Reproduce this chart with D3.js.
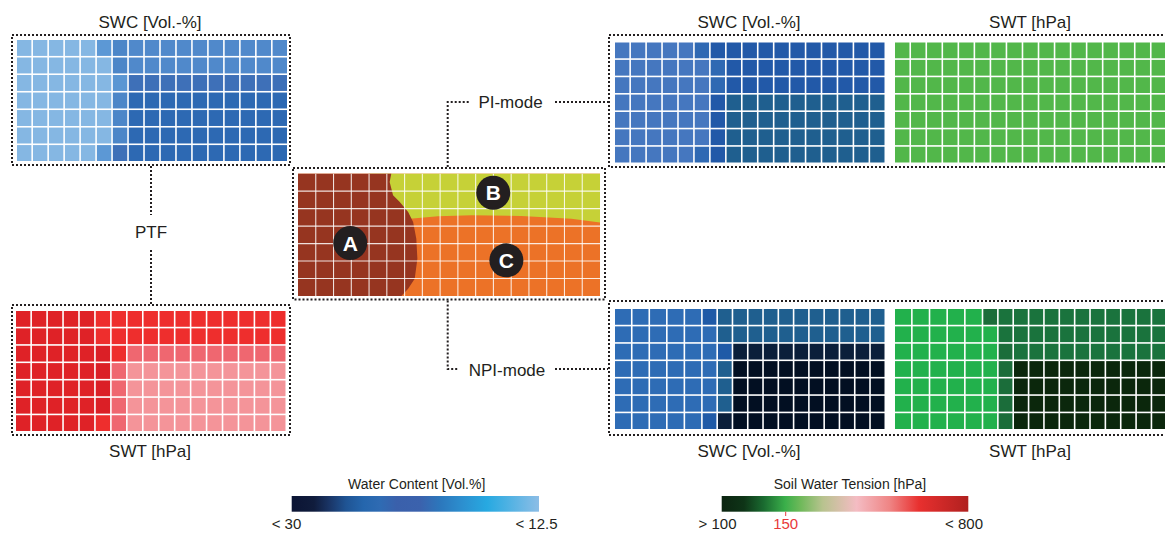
<!DOCTYPE html>
<html>
<head>
<meta charset="utf-8">
<script src="https://cdn.jsdelivr.net/npm/d3@7"></script>
<style>
  html, body { margin: 0; padding: 0; background: #fff; }
  svg { display: block; font-family: "Liberation Sans", Arial, Helvetica, sans-serif; }
</style>
</head>
<body>
<svg id="chart" width="1165" height="534"></svg>
<script>
// ---- grid data: each string is one row of 17 cells, each letter a class ----
const nCols = 17, nRows = 7;

const ptfSwc = [
  "aaaaabcdddddddddd",
  "aaaaaacdddddddddd",
  "aaaaaageeeeeeeeee",
  "aaaaaacffffffffff",
  "aaaaaacffffffffff",
  "aaaaaacffffffffff",
  "aaaaabeffffffffff"
];
const ptfSwcColors = { a: "#85b7e3", b: "#5c98d5", c: "#4c86c8", d: "#5089cb", e: "#3e70b8", f: "#2d69b3", g: "#5a96d3" };

const ptfSwt = [
  "aaaaabbbbbbbbbbbb",
  "aaaaabbbbbbbbbbbb",
  "aaaaacbdddddddddd",
  "aaaaacdeeeeeeeeee",
  "aaaaacdeeeeeeeeee",
  "aaaaacdeeeeeeeeee",
  "aaaaabdeeeeeeeeee"
];
const ptfSwtColors = { a: "#df2227", b: "#ee2e2d", c: "#db1f26", d: "#ef6770", e: "#f49499" };

const piSwc = [
  "aaaaabccccccccccc",
  "aaaaaabcccccccccc",
  "aaaaaabcccccccccc",
  "aaaaaaceeeeeeeeee",
  "aaaaaaceeeeeeeeee",
  "aaaaaaceeeeeeeeee",
  "aaaaabceeeeeeeeee"
];
const piSwcColors = { a: "#4577bf", b: "#2f69b3", c: "#2259a8", e: "#1f5f8f" };

const piSwt = [
  "ggggggggggggggggg",
  "ggggggggggggggggg",
  "ggggggggggggggggg",
  "ggggggggggggggggg",
  "ggggggggggggggggg",
  "ggggggggggggggggg",
  "ggggggggggggggggg"
];
const piSwtColors = { g: "#52b74a" };

const npiSwc = [
  "aaaaabccccccccccc",
  "aaaaaaccccccccccc",
  "aaaaaabdddddddddd",
  "aaaaaaceeeeeeeeee",
  "aaaaaaceeeeeeeeee",
  "aaaaaaceeeeeeeeee",
  "aaaaabdeeeeeeeeee"
];
const npiSwcColors = { a: "#2e6cb5", b: "#1f5aa7", c: "#1f5f8f", d: "#0b1f3a", e: "#020f22" };

const npiSwt = [
  "aaaaabccccccccccc",
  "aaaaaaccccccccccc",
  "aaaaaabcccccccccc",
  "aaaaaabdddddddddd",
  "aaaaaabdddddddddd",
  "aaaaaabdddddddddd",
  "aaaaaabdddddddddd"
];
const npiSwtColors = { a: "#22b14c", b: "#1b6d3a", c: "#1a733d", d: "#0b270c" };

// ---- soil unit map (grid units: columns 0..17, rows 0..7) ----
const unitA = [[0,0],[5.25,0],[5.16,0.48],[5.35,1.24],[5.73,1.62],[6.2,2.19],[6.48,2.76],
               [6.66,3.72],[6.72,4.87],[6.57,6.01],[6.2,6.58],[5.82,7],[0,7]];
const unitB = [[4,0],[17,0],[17,2.8],[15.39,2.58],[12.57,2.42],[9.76,2.38],[7.88,2.44],[6.3,2.58],[4,2.6]];
const unitLabels = [
  { name: "A", col: 2.94, row: 3.97 },
  { name: "B", col: 10.99, row: 1.09 },
  { name: "C", col: 11.73, row: 4.96 }
];
const unitColors = { A: "#963520", B: "#c6d137", C: "#ec7227" };

// ---- legends ----
const waterLegend = { title: "Water Content [Vol.%]", ticks: ["< 30", "< 12.5"] };
const waterStops = [[0,"#0b1434"],[0.09,"#101c3c"],[0.155,"#1a3668"],[0.22,"#1f5494"],[0.29,"#2566ad"],
                    [0.36,"#2f6bb3"],[0.425,"#3a60ab"],[0.52,"#3b62ad"],[0.6,"#2c77bc"],[0.69,"#2c8fcf"],
                    [0.79,"#27a9e1"],[0.87,"#4cb1e3"],[1,"#8cbde6"]];
const tensionLegend = { title: "Soil Water Tension [hPa]", ticks: ["> 100", "150", "< 800"] };
const tensionStops = [[0,"#0b2410"],[0.09,"#0e3417"],[0.17,"#1a6b30"],[0.257,"#3aaf4a"],[0.32,"#6fb95a"],
                      [0.41,"#b8c38f"],[0.547,"#f4bcc3"],[0.68,"#ef8585"],[0.8,"#e8302f"],[1,"#b0201f"]];

// ---- drawing ----
const svg = d3.select("#chart");
const ink = "#231f20";
const gap = 1.6;

function dotted(sel) {
  return sel.attr("fill", "none").attr("stroke", ink)
    .attr("stroke-width", 2).attr("stroke-dasharray", "2 2");
}

// colDomain/colRange allow a piecewise column layout (wider left block)
function drawGrid(rows, colors, colDomain, colRange, y0, y1) {
  const x = d3.scaleLinear().domain(colDomain).range(colRange);
  const y = d3.scaleLinear().domain([0, nRows]).range([y0, y1 + gap]);
  const color = d3.scaleOrdinal().domain(Object.keys(colors)).range(Object.values(colors));
  const cells = rows.flatMap((r, j) => r.split("").map((k, i) => ({ i, j, k })));
  svg.append("g").selectAll("rect").data(cells).join("rect")
    .attr("x", d => x(d.i)).attr("y", d => y(d.j))
    .attr("width", d => x(d.i + 1) - x(d.i) - gap)
    .attr("height", d => y(d.j + 1) - y(d.j) - gap)
    .attr("fill", d => color(d.k));
}

function box(x0, y0, x1, y1) {
  svg.append("rect").attr("x", x0).attr("y", y0)
    .attr("width", x1 - x0).attr("height", y1 - y0).call(dotted);
}

function label(text, x, y, size, anchor, fill) {
  svg.append("text").attr("x", x).attr("y", y)
    .attr("text-anchor", anchor || "middle")
    .attr("font-size", size).attr("fill", fill || ink).text(text);
}

// PTF panels (left)
drawGrid(ptfSwc, ptfSwcColors, [0, nCols], [17, 287 + gap], 40, 161);
box(12, 35, 290, 165);
drawGrid(ptfSwt, ptfSwtColors, [0, nCols], [16, 285.5 + gap], 311, 431);
box(12, 305, 290, 435);

// PI-mode panels (top right)
drawGrid(piSwc, piSwcColors, [0, nCols], [615, 884.5 + gap], 42.5, 162.5);
drawGrid(piSwt, piSwtColors, [0, nCols], [895, 1166 + gap], 42.5, 162.5);
box(609, 35, 1175, 167);

// NPI-mode panels (bottom right)
drawGrid(npiSwc, npiSwcColors, [0, 5, nCols], [615, 702.7, 884.5 + gap], 309, 429);
drawGrid(npiSwt, npiSwtColors, [0, 5, nCols], [895, 983.3, 1166 + gap], 309, 429);
box(609, 301, 1175, 435);

// soil unit map (centre)
const mx = d3.scaleLinear().domain([0, nCols]).range([298, 600]);
const my = d3.scaleLinear().domain([0, nRows]).range([173.7, 296]);
const map = svg.append("g");
map.append("rect").attr("x", mx(0)).attr("y", my(0))
  .attr("width", mx(nCols) - mx(0)).attr("height", my(nRows) - my(0))
  .attr("fill", unitColors.C);
const poly = d3.line().x(d => mx(d[0])).y(d => my(d[1])).curve(d3.curveLinearClosed);
map.append("path").attr("d", poly(unitB)).attr("fill", unitColors.B);
map.append("path").attr("d", poly(unitA)).attr("fill", unitColors.A);
map.append("g").selectAll("line").data(d3.range(1, nCols)).join("line")
  .attr("x1", d => mx(d)).attr("x2", d => mx(d)).attr("y1", my(0)).attr("y2", my(nRows))
  .attr("stroke", "#fff").attr("stroke-width", 1.1).attr("stroke-opacity", 0.85);
map.append("g").selectAll("line").data(d3.range(1, nRows)).join("line")
  .attr("x1", mx(0)).attr("x2", mx(nCols)).attr("y1", d => my(d)).attr("y2", d => my(d))
  .attr("stroke", "#fff").attr("stroke-width", 1.1).attr("stroke-opacity", 0.85);
const marks = map.append("g").selectAll("g").data(unitLabels).join("g")
  .attr("transform", d => `translate(${mx(d.col)},${my(d.row)})`);
marks.append("circle").attr("r", 17).attr("fill", ink);
marks.append("text").attr("text-anchor", "middle").attr("dy", "0.36em")
  .attr("font-size", 21).attr("font-weight", "bold").attr("fill", "#fff").text(d => d.name);
box(293, 168, 605, 299.5);

// connectors
svg.append("path").attr("d", "M151,166V215M151,250V304").call(dotted);
svg.append("path").attr("d", "M447.7,167V102H470M555,102H608").call(dotted);
svg.append("path").attr("d", "M447.7,300.5V369H458M555,369H608").call(dotted);

// panel titles
label("SWC [Vol.-%]", 150, 28, 17);
label("SWC [Vol.-%]", 749, 28, 17);
label("SWT [hPa]", 1030, 28, 17);
label("SWT [hPa]", 150, 457, 17);
label("SWC [Vol.-%]", 749, 457, 17);
label("SWT [hPa]", 1030, 457, 17);
label("PTF", 151, 238, 17);
label("PI-mode", 510.5, 108, 17);
label("NPI-mode", 507, 376, 17);

// colour legends
const defs = svg.append("defs");
function gradient(id, stops) {
  defs.append("linearGradient").attr("id", id)
    .selectAll("stop").data(stops).join("stop")
    .attr("offset", d => d[0]).attr("stop-color", d => d[1]);
}
gradient("gWater", waterStops);
gradient("gTension", tensionStops);

svg.append("rect").attr("x", 291.7).attr("y", 496).attr("width", 247.3).attr("height", 15.7)
  .attr("fill", "url(#gWater)");
label(waterLegend.title, 416.7, 488.5, 14);
label(waterLegend.ticks[0], 286.5, 529, 15);
label(waterLegend.ticks[1], 536.5, 529, 15);

svg.append("rect").attr("x", 721.7).attr("y", 496).attr("width", 246.6).attr("height", 15.7)
  .attr("fill", "url(#gTension)");
label(tensionLegend.title, 850, 488.5, 14);
label(tensionLegend.ticks[0], 717.5, 529, 15);
label(tensionLegend.ticks[1], 785.7, 529, 15, "middle", "#e8393a");
label(tensionLegend.ticks[2], 964, 529, 15);
svg.append("line").attr("x1", 785.7).attr("x2", 785.7).attr("y1", 511.7).attr("y2", 516)
  .attr("stroke", "#e8393a").attr("stroke-width", 1);
</script>
</body>
</html>
